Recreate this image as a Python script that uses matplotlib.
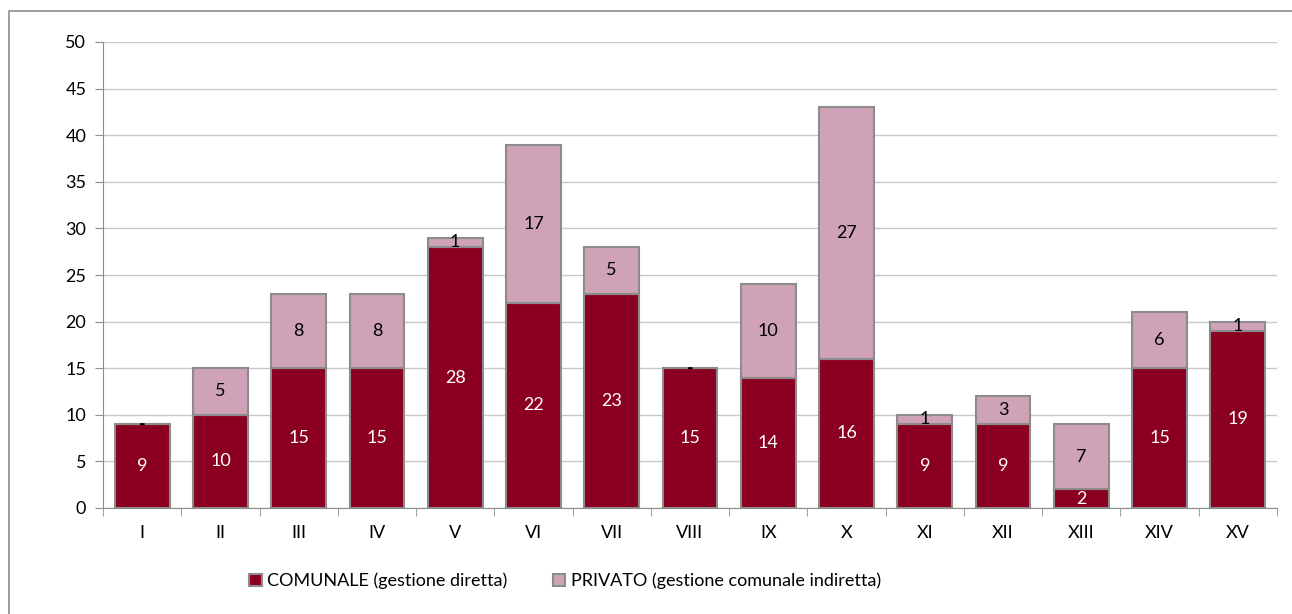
import matplotlib.pyplot as plt
from matplotlib.lines import Line2D

categories = ['I', 'II', 'III', 'IV', 'V', 'VI', 'VII', 'VIII', 'IX', 'X',
              'XI', 'XII', 'XIII', 'XIV', 'XV']
comunale = [9, 10, 15, 15, 28, 22, 23, 15, 14, 16, 9, 9, 2, 15, 19]
privato = [0, 5, 8, 8, 1, 17, 5, 0, 10, 27, 1, 3, 7, 6, 1]
legend_labels = ['COMUNALE (gestione diretta)', 'PRIVATO (gestione comunale indiretta)']

plt.rcParams['font.family'] = ['Lato', 'DejaVu Sans']

fig = plt.figure(figsize=(12.92, 6.14), dpi=100)
ax = fig.add_axes([103 / 1292, 1 - 508 / 614, (1277 - 103) / 1292, (508 - 42) / 614])

# outer chart border (only top and left are inside the picture)
fig.lines.append(Line2D([9 / 1292, 9 / 1292, 1], [0, 1 - 11 / 614, 1 - 11 / 614],
                        transform=fig.transFigure, color='#8c8c8c', linewidth=1.2))

x = range(len(categories))
red = '#8B0021'
pink = '#CFA2B8'
edge = '#8c8c8c'
fs = 13
b1 = ax.bar(x, comunale, width=0.7, color=red, edgecolor=edge, linewidth=1.5,
            label=legend_labels[0], zorder=3)
b2 = ax.bar(x, privato, width=0.7, bottom=comunale, color=pink, edgecolor=edge,
            linewidth=1.5, label=legend_labels[1], zorder=3)

for i in x:
    ax.text(i, comunale[i] / 2, str(comunale[i]), ha='center', va='center',
            color='white', fontsize=fs, zorder=4)
    if privato[i] == 0:
        ax.text(i, comunale[i], '-', ha='center', va='center',
                color='black', fontsize=fs, fontweight='bold', zorder=4)
    else:
        ax.text(i, comunale[i] + privato[i] / 2, str(privato[i]), ha='center',
                va='center', color='black', fontsize=fs, zorder=4)

ax.set_xlim(-0.5, len(categories) - 0.5)
ax.set_ylim(0, 50)
ax.set_yticks(range(0, 51, 5))
ax.set_xticks(x)
ax.set_xticklabels(categories)
ax.set_xticks([i - 0.5 for i in range(len(categories) + 1)], minor=True)
ax.tick_params(axis='x', which='major', length=0, pad=12, labelsize=fs)
ax.tick_params(axis='x', which='minor', length=6, color=edge)
ax.tick_params(axis='y', length=6, color=edge, pad=6, labelsize=fs)
ax.grid(axis='y', color='#c8c8c8', linewidth=1, zorder=0)
for side in ['top', 'right']:
    ax.spines[side].set_visible(False)
ax.spines['left'].set_color(edge)
ax.spines['bottom'].set_color(edge)

ax.legend(handles=[b1, b2], loc='center', bbox_to_anchor=(565 / 1292, 1 - 581 / 614),
          bbox_transform=fig.transFigure, ncol=2, frameon=False, fontsize=fs,
          handlelength=0.7, handleheight=0.7, handletextpad=0.3, columnspacing=2.5)

fig.savefig('out.png', dpi=100)
